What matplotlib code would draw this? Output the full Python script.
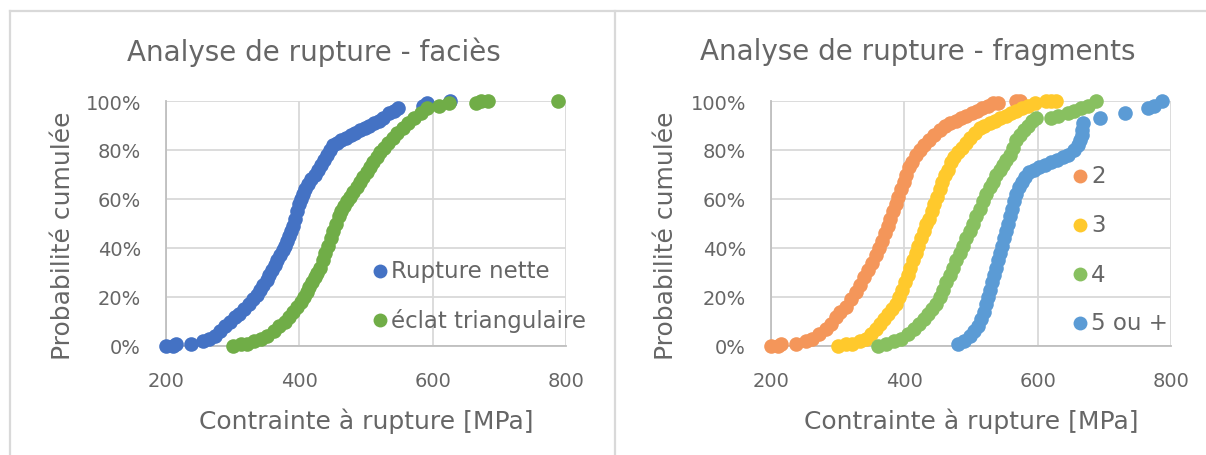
import matplotlib
matplotlib.use("Agg")
import matplotlib.pyplot as plt
from matplotlib.ticker import PercentFormatter
from matplotlib.lines import Line2D

plt.rcParams['font.family'] = ['DejaVu Sans']

# ---------------- Left chart : faciès ----------------
nette_x = [200, 211, 215, 238, 256, 265, 273, 281, 289, 296, 303, 310, 317, 324, 330, 336, 341, 346, 351, 355,
           359, 363, 367, 371, 375, 378, 381, 384, 387, 390, 393, 396, 399, 402, 405, 409, 413, 418, 423, 428,
           433, 437, 441, 446, 451, 457, 463, 470, 477, 484, 491, 498, 505, 512, 519, 526, 534, 542, 548, 585,
           592, 626]
nette_y = [0.00, 0.00, 0.01, 0.01, 0.02, 0.03, 0.04, 0.06, 0.08, 0.10, 0.12, 0.13, 0.15, 0.17, 0.19, 0.21, 0.23, 0.25, 0.27, 0.29,
           0.31, 0.33, 0.35, 0.37, 0.39, 0.41, 0.43, 0.45, 0.47, 0.49, 0.52, 0.55, 0.58, 0.60, 0.62, 0.64, 0.66, 0.68, 0.70, 0.72,
           0.74, 0.76, 0.78, 0.80, 0.82, 0.83, 0.84, 0.85, 0.86, 0.87, 0.88, 0.89, 0.90, 0.91, 0.92, 0.93, 0.95, 0.96, 0.97, 0.98,
           0.99, 1.00]

eclat_x = [300, 312, 322, 332, 342, 352, 362, 370, 378, 385, 391, 397, 402, 407, 411, 415, 419, 423, 427, 431,
           435, 439, 443, 447, 451, 455, 459, 463, 467, 471, 476, 481, 486, 491, 496, 501, 506, 511, 516, 521,
           527, 533, 540, 547, 555, 563, 572, 582, 592, 610, 625, 665, 672, 683, 788]
eclat_y = [0.00, 0.01, 0.01, 0.02, 0.03, 0.04, 0.06, 0.08, 0.10, 0.12, 0.14, 0.16, 0.18, 0.20, 0.22, 0.24, 0.26, 0.28, 0.30, 0.32,
           0.35, 0.38, 0.41, 0.44, 0.47, 0.50, 0.53, 0.55, 0.57, 0.59, 0.61, 0.63, 0.65, 0.67, 0.69, 0.71, 0.73, 0.75, 0.77, 0.79,
           0.81, 0.83, 0.85, 0.87, 0.89, 0.91, 0.93, 0.95, 0.97, 0.98, 0.99, 0.99, 1.00, 1.00, 1.00]

# ---------------- Right chart : fragments ----------------
f2_x = [200, 210, 215, 238, 252, 262, 272, 282, 290, 297, 304, 312, 320, 327, 334, 340, 346, 352, 357, 362,
        367, 371, 375, 379, 383, 387, 391, 395, 399, 403, 407, 412, 417, 423, 430, 437, 445, 453, 461, 469,
        477, 485, 493, 501, 509, 517, 525, 533, 540, 568, 573]
f2_y = [0.00, 0.00, 0.01, 0.01, 0.02, 0.03, 0.05, 0.07, 0.09, 0.12, 0.14, 0.16, 0.19, 0.22, 0.25, 0.28, 0.31, 0.34, 0.37, 0.40,
        0.43, 0.46, 0.49, 0.52, 0.55, 0.58, 0.61, 0.64, 0.67, 0.70, 0.73, 0.75, 0.78, 0.80, 0.82, 0.84, 0.86, 0.88, 0.90, 0.91,
        0.92, 0.93, 0.94, 0.95, 0.96, 0.97, 0.98, 0.99, 0.99, 1.00, 1.00]

f3_x = [300, 312, 322, 333, 342, 350, 357, 364, 370, 376, 382, 387, 392, 397, 401, 405, 409, 413, 417, 421,
        425, 429, 433, 437, 441, 445, 449, 453, 457, 461, 465, 470, 475, 480, 486, 492, 499, 506, 513, 520,
        528, 536, 544, 552, 560, 568, 576, 586, 596, 612, 620, 627]
f3_y = [0.00, 0.01, 0.01, 0.02, 0.03, 0.05, 0.07, 0.09, 0.11, 0.13, 0.15, 0.17, 0.20, 0.23, 0.26, 0.29, 0.32, 0.35, 0.38, 0.41,
        0.44, 0.47, 0.50, 0.52, 0.55, 0.58, 0.61, 0.64, 0.67, 0.70, 0.72, 0.75, 0.77, 0.79, 0.81, 0.83, 0.85, 0.87, 0.89, 0.90,
        0.91, 0.92, 0.93, 0.94, 0.95, 0.96, 0.97, 0.98, 0.99, 1.00, 1.00, 1.00]

f4_x = [360, 372, 384, 395, 405, 414, 422, 429, 436, 442, 448, 453, 458, 463, 468, 473, 478, 483, 488, 493,
        498, 503, 508, 513, 518, 523, 528, 533, 538, 543, 548, 553, 558, 563, 568, 574, 580, 586, 592, 598,
        620, 630, 645, 655, 665, 675, 688]
f4_y = [0.00, 0.01, 0.02, 0.03, 0.05, 0.07, 0.09, 0.11, 0.13, 0.15, 0.17, 0.20, 0.23, 0.26, 0.29, 0.32, 0.35, 0.38, 0.41, 0.44,
        0.47, 0.50, 0.53, 0.56, 0.59, 0.62, 0.65, 0.67, 0.70, 0.72, 0.74, 0.76, 0.78, 0.81, 0.84, 0.86, 0.88, 0.90, 0.92, 0.93,
        0.93, 0.94, 0.95, 0.96, 0.97, 0.98, 1.00]

f5_x = [480, 490, 498, 505, 511, 515, 519, 522, 525, 528, 531, 534, 537, 540, 543, 546, 549, 552, 555, 558,
        561, 564, 568, 572, 576, 581, 587, 594, 602, 611, 620, 629, 638, 646, 654, 660, 664, 666, 667, 668,
        693, 731, 765, 775, 787]
f5_y = [0.01, 0.02, 0.04, 0.06, 0.08, 0.11, 0.14, 0.17, 0.20, 0.23, 0.26, 0.29, 0.32, 0.35, 0.38, 0.41, 0.44, 0.47, 0.50, 0.53,
        0.56, 0.59, 0.62, 0.65, 0.67, 0.69, 0.71, 0.72, 0.73, 0.74, 0.75, 0.76, 0.77, 0.78, 0.80, 0.82, 0.84, 0.86, 0.88, 0.91,
        0.93, 0.95, 0.97, 0.98, 1.00]

x_ticks = [200, 400, 600, 800]
y_ticks = [0, 0.2, 0.4, 0.6, 0.8, 1.0]

titles = ["Analyse de rupture - faciès", "Analyse de rupture - fragments"]
xlabel = "Contrainte à rupture [MPa]"
ylabel = "Probabilité cumulée"

left_series = [("Rupture nette", nette_x, nette_y, "#4472C4"),
               ("éclat triangulaire", eclat_x, eclat_y, "#70AD47")]
right_series = [("2", f2_x, f2_y, "#F4965A"),
                ("3", f3_x, f3_y, "#FFC92C"),
                ("4", f4_x, f4_y, "#88C060"),
                ("5 ou +", f5_x, f5_y, "#5B9BD5")]

TXT = "#666666"
GRID = "#D9D9D9"
AX = "#BFBFBF"

W, H = 1206, 456
fig = plt.figure(figsize=(W / 100, H / 100), dpi=100)

# panel borders
fig.add_artist(Line2D([10 / W, 10 / W], [0, 1 - 12 / H], color=GRID, lw=1.6))
fig.add_artist(Line2D([10 / W, 1], [1 - 12 / H, 1 - 12 / H], color=GRID, lw=1.6))
fig.add_artist(Line2D([615 / W, 615 / W], [0, 1 - 12 / H], color=GRID, lw=1.6))

panels = [
    dict(left=166, right=566, series=left_series, title=titles[0], tcx=314, ylx=63,
         legend=dict(x=380, y0=272, dy=49)),
    dict(left=771, right=1171, series=right_series, title=titles[1], tcx=918, ylx=666,
         legend=dict(x=1080, y0=177, dy=49)),
]
top_px, bot_px = 102, 347

for p in panels:
    ax = fig.add_axes([p['left'] / W, 1 - bot_px / H, (p['right'] - p['left']) / W, (bot_px - top_px) / H])
    for name, xs, ys, col in p['series']:
        ax.plot(xs, ys, linestyle='none', marker='o', markersize=10.5, color=col,
                markeredgewidth=0, clip_on=False, zorder=3)
    ax.set_xlim(200, 800)
    ax.set_ylim(0, 1.0)
    ax.set_xticks(x_ticks)
    ax.set_yticks(y_ticks)
    ax.yaxis.set_major_formatter(PercentFormatter(1.0, decimals=0))
    ax.grid(True, color=GRID, lw=1.3)
    ax.set_axisbelow(True)
    for s in ['top', 'right']:
        ax.spines[s].set_visible(False)
    for s in ['left', 'bottom']:
        ax.spines[s].set_color(AX)
        ax.spines[s].set_linewidth(1.3)
    ax.tick_params(length=0, labelsize=14, colors=TXT)
    ax.tick_params(axis='y', pad=18)
    ax.tick_params(axis='x', pad=18)
    cx = (p['left'] + p['right']) / 2
    fig.text(cx / W, 1 - 421 / H, xlabel, ha='center', va='center', fontsize=18, color=TXT)
    fig.text(p['ylx'] / W, 1 - 236 / H, ylabel, ha='center', va='center', rotation=90,
             fontsize=18, color=TXT)
    fig.text(p['tcx'] / W, 1 - 52 / H, p['title'], ha='center', va='center', fontsize=20, color=TXT)
    lg = p['legend']
    for i, (name, xs, ys, col) in enumerate(p['series']):
        yy = 1 - (lg['y0'] + i * lg['dy']) / H
        fig.add_artist(Line2D([lg['x'] / W], [yy], marker='o', markersize=10, color=col,
                              markeredgewidth=0, linestyle='none'))
        fig.text((lg['x'] + 11) / W, yy, name, ha='left', va='center', fontsize=16.5, color=TXT)

fig.savefig("out.png", dpi=100, facecolor='white')
